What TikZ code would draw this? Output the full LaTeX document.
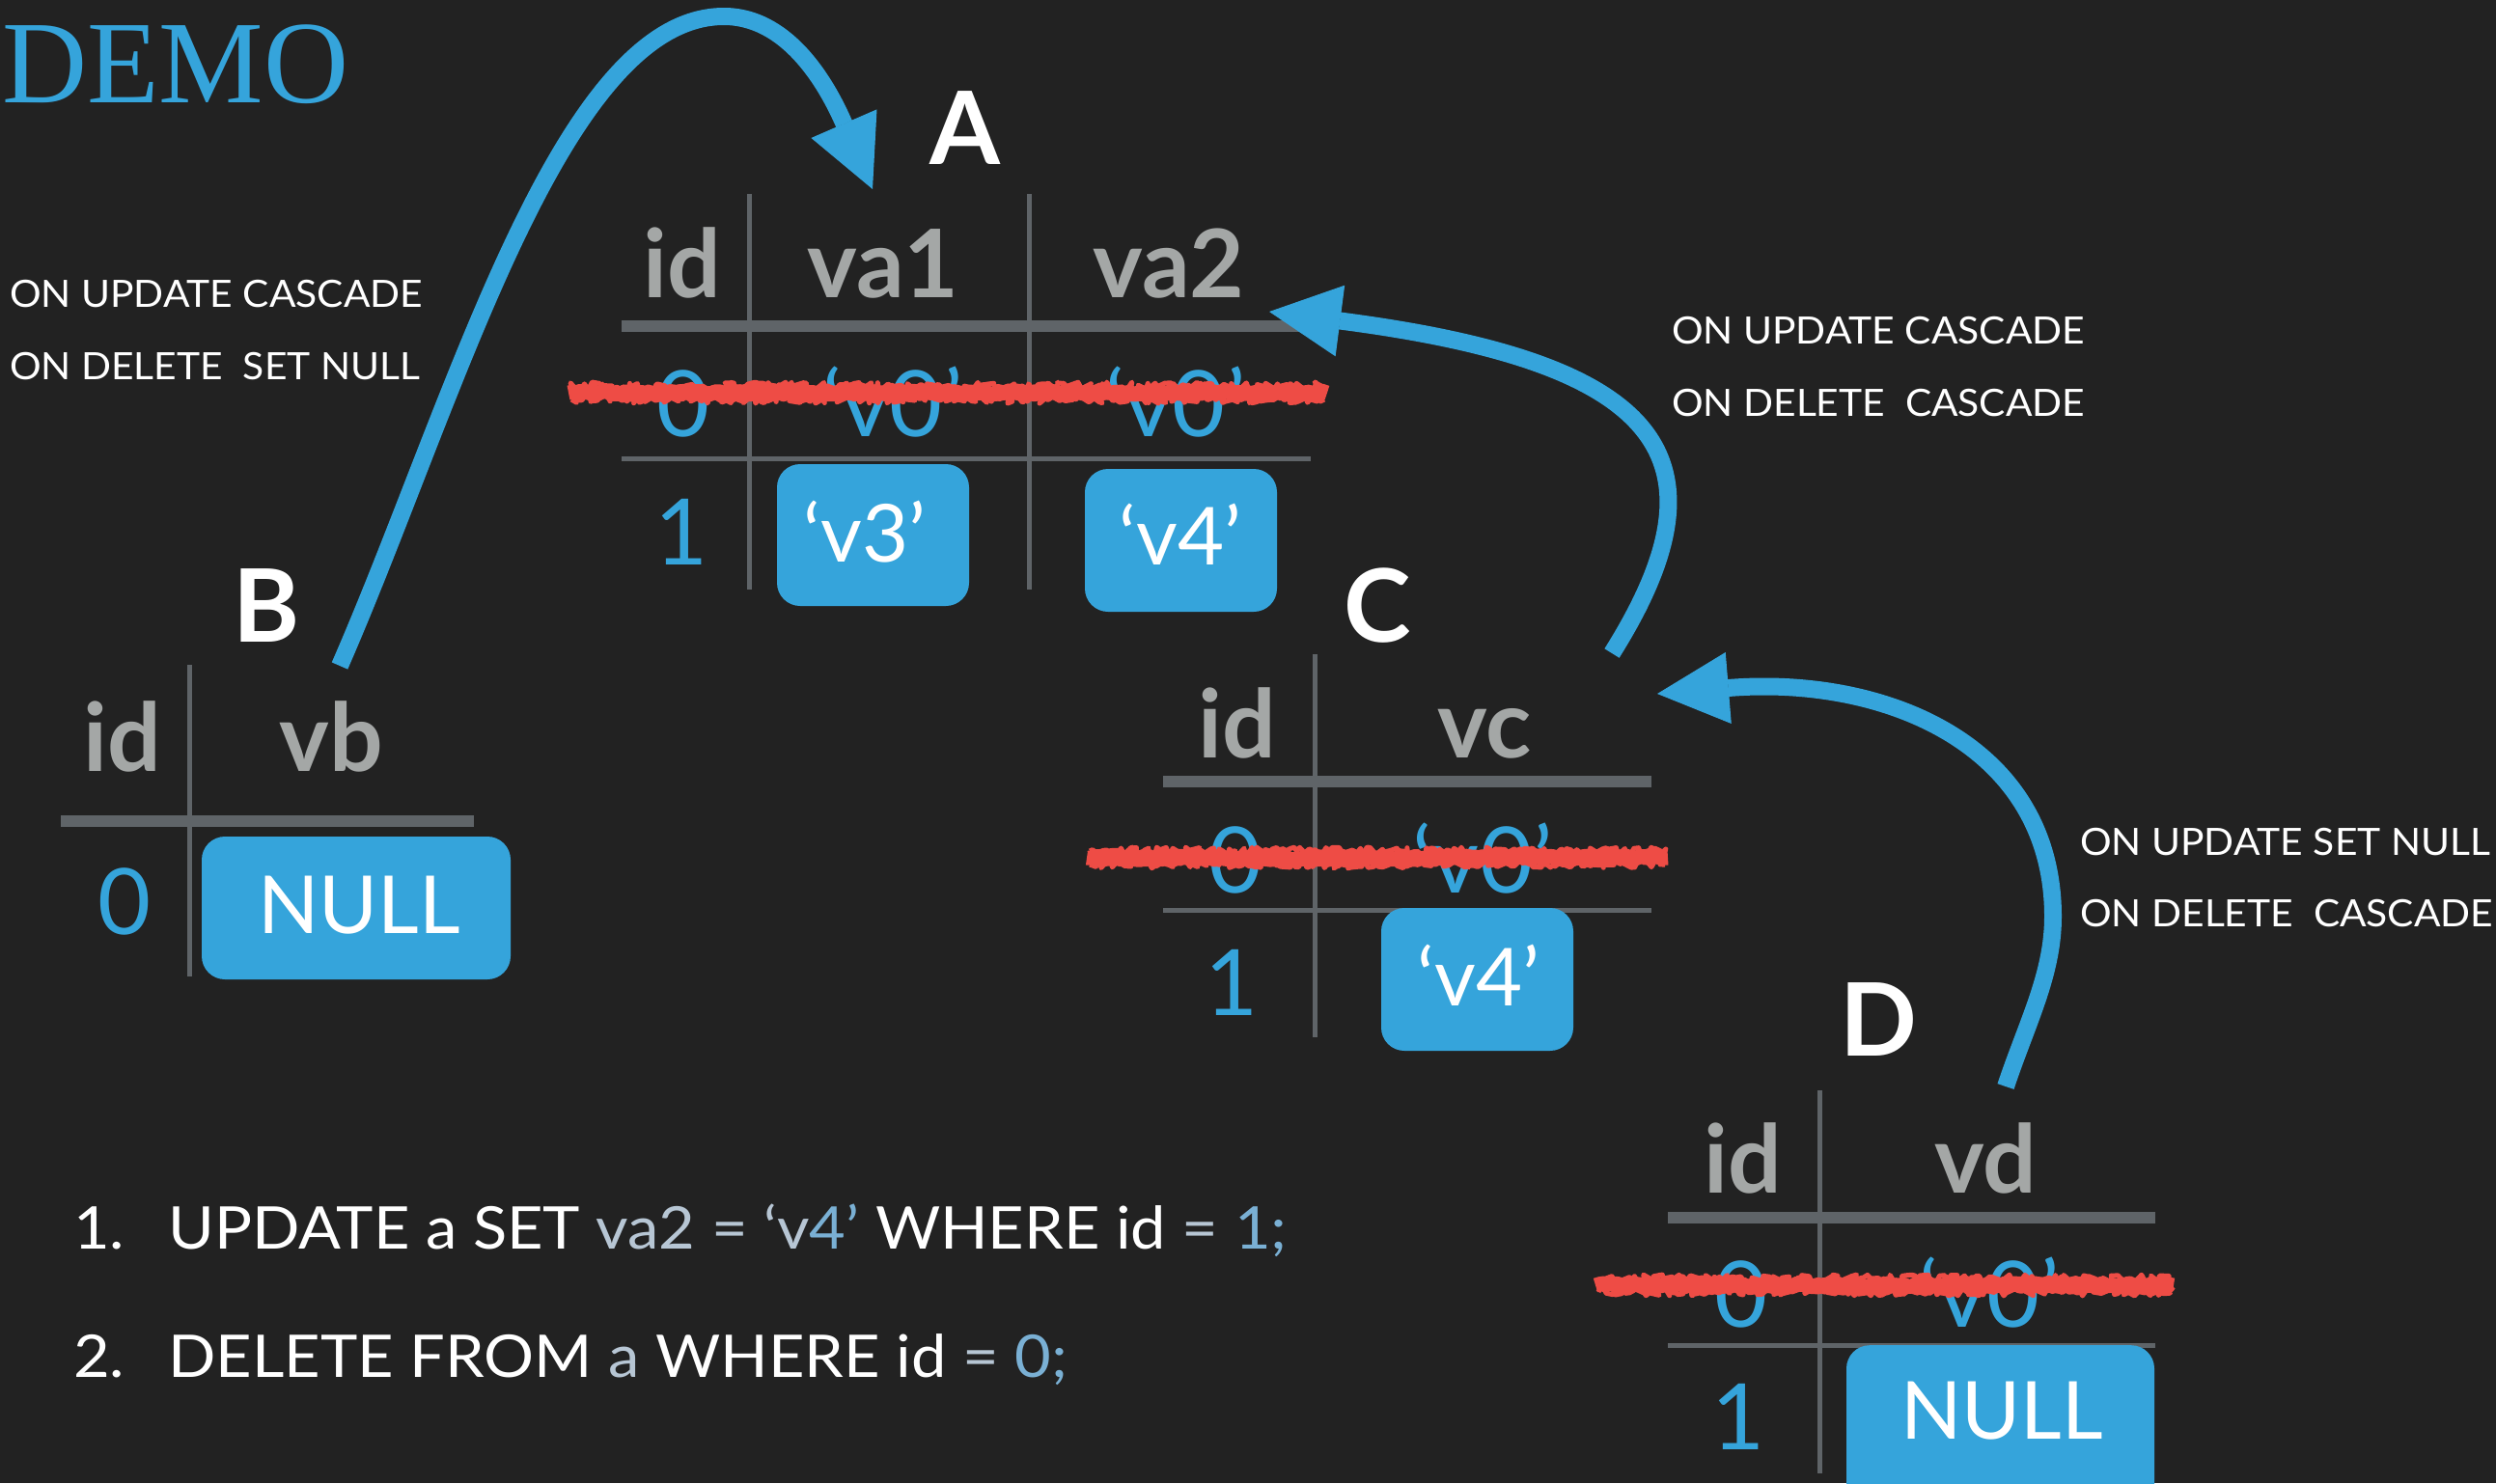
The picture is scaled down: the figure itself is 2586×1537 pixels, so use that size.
\documentclass[tikz,border=0pt]{standalone}
\usepackage{fontspec}
\setmainfont{Lato}
\newfontfamily\demofont{Liberation Serif}
\newfontfamily\widefont[FakeStretch=1.045]{Lato}
\newfontfamily\sqlfont[FakeStretch=1.065]{Lato}
\usetikzlibrary{arrows.meta,decorations.pathmorphing}
\definecolor{canvas}{HTML}{222222}
\definecolor{accent}{HTML}{35A4DB}
\definecolor{gridgray}{HTML}{5F6468}
\definecolor{headgray}{HTML}{A4A7A6}
\definecolor{strikered}{HTML}{EE4C45}
\definecolor{sqlpale}{HTML}{B7C6D4}
\definecolor{sqlnum}{HTML}{7AB0D4}
\newcommand\setfs[1]{\fontsize{#1}{#1}\selectfont}
\begin{document}
\begin{tikzpicture}[x=1pt,y=-1pt,
  tabhead/.style={anchor=base, inner sep=0pt, text=headgray, font=\setfs{98}\bfseries},
  tabname/.style={anchor=base, inner sep=0pt, text=white, font=\setfs{105}\bfseries},
  cellval/.style={anchor=base, inner sep=0pt, text=accent, font=\setfs{95}},
  chip/.style={fill=accent, rounded corners=24pt, inner sep=0pt},
  chiptext/.style={anchor=base, inner sep=0pt, text=white, font=\setfs{83}},
  headrule/.style={draw=gridgray, line width=12pt},
  rowrule/.style={draw=gridgray, line width=5pt},
  colrule/.style={draw=gridgray, line width=5pt},
  fkarrow/.style={draw=accent, line width=18pt, -{Triangle[length=74pt,width=74pt,line width=1pt]}},
  note/.style={anchor=base west, inner sep=0pt, text=white, font=\widefont\setfs{39}},
  sql/.style={anchor=base west, inner sep=0pt, text=white, font=\sqlfont\setfs{61}},
  scratch/.style={draw=strikered, line join=round, decorate,
    decoration={random steps, segment length=4pt, amplitude=2pt}, line width=15pt},
  scratchedge/.style={draw=strikered, line join=round, decorate,
    decoration={random steps, segment length=3pt, amplitude=4pt}, line width=5pt}]

\useasboundingbox (0,0) rectangle (2586,1537);
\fill[canvas] (0,0) rectangle (2586,1537);
\clip (0,0) rectangle (2586,1537);

% title
\node[anchor=base west, inner sep=0pt, text=accent, font=\demofont\setfs{122}] (title) at (2,106) {DEMO};

% rule texts
\node[note] (bupd) at (10,318) {ON UPDATE CASCADE};
\node[note] (bdel) at (10,393) {ON DELETE\ \ SET NULL};
\node[note] (cupd) at (1732,356) {ON UPDATE CASCADE};
\node[note] (cdel) at (1732,431) {ON DELETE\ \ CASCADE};
\node[note] (dupd) at (2155,886) {ON UPDATE SET NULL};
\node[note] (ddel) at (2155,960) {ON DELETE\ \ CASCADE};

% ---------- table A ----------
\draw[colrule] (776,201) -- (776,611);
\draw[colrule] (1066,201) -- (1066,611);
\draw[headrule] (644,337.5) -- (1355,337.5);
\draw[rowrule] (644,475) -- (1358,475);
\node[tabname] (aname) at (1000,170) {A};
\node[tabhead] (aid) at (707,308) {id};
\node[tabhead] (ava1) at (915,308) {va1};
\node[tabhead] (ava2) at (1211,308) {va2};
\node[cellval] (a0id) at (708,452) {0};
\node[cellval] (a0v1) at (925,452) {‘v0’};
\node[cellval] (a0v2) at (1218,452) {‘v0’};
\node[cellval] (a1id) at (706,585) {1};
\node[chip, minimum width=199pt, minimum height=147pt] (a1v1) at (904.5,554.5) {};
\node[chip, minimum width=199pt, minimum height=148pt] (a1v2) at (1223.5,560) {};
\node[chiptext] (a1v1t) at (896,582) {‘v3’};
\node[chiptext] (a1v2t) at (1223,585) {‘v4’};
\draw[scratch] (589,407) -- (1375,407);
\draw[scratchedge] (592,400) -- (1372,400);
\draw[scratchedge] (592,414) -- (1372,414);

% ---------- table B ----------
\draw[colrule] (196,689) -- (196,1012);
\draw[headrule] (63,851) -- (491,851);
\node[tabname] (bname) at (276,665) {B};
\node[tabhead] (bid) at (127,799) {id};
\node[tabhead] (bvb) at (343,799) {vb};
\node[cellval] (b0id) at (129,968) {0};
\node[chip, minimum width=320pt, minimum height=148pt] (b0vb) at (369,941) {};
\node[chiptext] (b0vbt) at (372,967) {NULL};

% ---------- table C ----------
\draw[colrule] (1362,678) -- (1362,1075);
\draw[headrule] (1205,810) -- (1711,810);
\draw[rowrule] (1205,943) -- (1711,943);
\node[tabname] (cname) at (1427,665) {C};
\node[tabhead] (cid) at (1282,785) {id};
\node[tabhead] (cvc) at (1538,785) {vc};
\node[cellval] (c0id) at (1280,925) {0};
\node[cellval] (c0vc) at (1536,925) {‘v0’};
\node[cellval] (c1id) at (1276,1052) {1};
\node[chip, minimum width=199pt, minimum height=148pt] (c1vc) at (1530.5,1015) {};
\node[chiptext] (c1vct) at (1532,1042) {‘v4’};
\draw[scratch] (1126,889) -- (1728,889);
\draw[scratchedge] (1129,882) -- (1725,882);
\draw[scratchedge] (1129,896) -- (1725,896);

% ---------- table D ----------
\draw[colrule] (1885,1130) -- (1885,1527);
\draw[headrule] (1728,1262) -- (2233,1262);
\draw[rowrule] (1728,1394) -- (2233,1394);
\node[tabname] (dname) at (1946,1094) {D};
\node[tabhead] (did) at (1806,1236) {id};
\node[tabhead] (dvd) at (2057,1236) {vd};
\node[cellval] (d0id) at (1804,1375) {0};
\node[cellval] (d0vd) at (2061,1375) {‘v0’};
\node[cellval] (d1id) at (1801,1502) {1};
\node[chip, minimum width=319pt, minimum height=190pt, anchor=north] (d1vd) at (2072.5,1394) {};
\node[chiptext] (d1vdt) at (2074,1491) {NULL};
\draw[scratch] (1653,1332) -- (2252,1332);
\draw[scratchedge] (1656,1325) -- (2249,1325);
\draw[scratchedge] (1656,1339) -- (2249,1339);

% ---------- foreign-key arrows ----------
\coordinate (bfrom) at (352,690);
\coordinate (ato1) at (904,196);
\coordinate (cfrom) at (1670,677);
\coordinate (ato2) at (1315,323);
\coordinate (dfrom) at (2078,1126);
\coordinate (cto) at (1717,719);

\draw[fkarrow] (bfrom) .. controls (470,420) and (580,17) .. (750,17)
                       .. controls (820,17) and (860,95) .. (ato1);
\draw[fkarrow] (cfrom) .. controls (1800,470) and (1716,375) .. (ato2);
\draw[fkarrow] (dfrom) .. controls (2100,1060) and (2127,1010) .. (2127,950)
                       .. controls (2127,770) and (1950,700) .. (cto);

% ---------- statements ----------
\node[sql] (q1n) at (76,1294) {1.};
\node[sql] (q1) at (174,1294) {UPDATE a SET \textcolor{sqlpale}{va2 = ‘v}\textcolor{sqlnum}{4’} WHERE id \textcolor{sqlpale}{=} \textcolor{sqlnum}{1;}};
\node[sql] (q2n) at (76,1427) {2.};
\node[sql] (q2) at (174,1427) {DELETE FROM \textcolor{sqlpale}{a} WHERE id \textcolor{sqlpale}{=} \textcolor{sqlnum}{0;}};
\end{tikzpicture}
\end{document}
